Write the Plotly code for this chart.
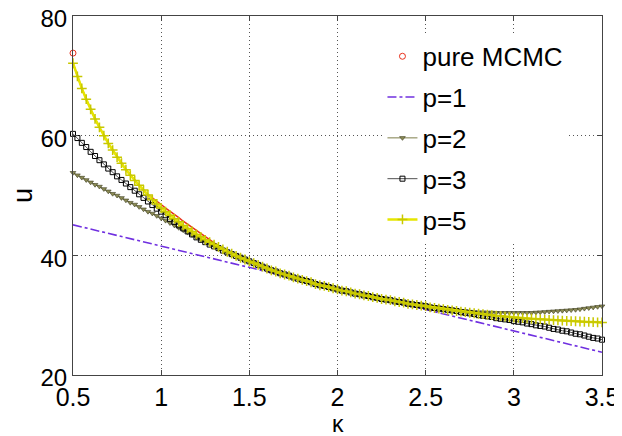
import numpy as np
import plotly.graph_objects as go

# kappa grid of the sampled curves (0.5 .. 3.5, step 0.025)
kappa = [round(0.5 + 0.025 * i, 3) for i in range(121)]

# pure MCMC
mcmc_k = [0.5]
mcmc_u = [73.8]
mcmc_line_u = [72.1, 69.9, 67.9, 66.1, 64.4, 62.8, 61.4, 60.0, 58.7, 57.6,
               56.4, 55.4, 54.3, 53.4, 52.5, 51.7, 50.9, 50.1, 49.6, 49.1,
               48.5, 47.9, 47.4, 46.8, 46.3, 45.7, 45.2, 44.7, 44.2, 43.7,
               43.2, 42.6, 42.1, 41.6, 41.0, 40.6, 40.3, 39.9, 39.6, 39.3,
               39.0, 38.7, 38.4, 38.1, 37.8, 37.5, 37.3, 37.0, 36.8, 36.6,
               36.3, 36.1, 35.9, 35.7, 35.5, 35.2, 35.0, 34.9, 34.7, 34.5,
               34.3, 34.1, 34.0, 33.8, 33.6, 33.5, 33.3, 33.2, 33.0, 32.9,
               32.7, 32.6, 32.5, 32.3, 32.2, 32.1, 31.9, 31.8, 31.7, 31.6,
               31.5, 31.3, 31.2, 31.1, 31.0, 30.9, 30.8, 30.7, 30.6, 30.5,
               30.4, 30.32, 30.24, 30.16, 30.08, 30.0, 29.92, 29.84, 29.76, 29.68,
               29.6, 29.55, 29.5, 29.45, 29.4, 29.35, 29.3, 29.26, 29.22, 29.18,
               29.14, 29.1, 29.06, 29.02, 28.98, 28.94, 28.9, 28.87, 28.84, 28.81, 28.78]

# p = 1 (straight line)
kappa_p1 = [0.5, 0.75, 1.0, 1.25, 1.5, 1.75, 2.0, 2.25, 2.5, 2.75, 3.0, 3.25, 3.5]
p1_u = [45.1, 43.3, 41.5, 39.8, 38.0, 36.2, 34.5, 32.7, 30.9, 29.1, 27.4, 25.6, 23.8]

p2_u = [53.8, 53.4, 53.0, 52.6, 52.2, 51.8, 51.5, 51.1, 50.7, 50.3,
        50.0, 49.6, 49.2, 48.8, 48.5, 48.1, 47.7, 47.3, 47.0, 46.6,
        46.2, 45.8, 45.4, 45.0, 44.6, 44.2, 43.8, 43.4, 43.0, 42.6,
        42.3, 41.9, 41.6, 41.2, 40.9, 40.5, 40.2, 39.9, 39.6, 39.3,
        39.0, 38.7, 38.4, 38.1, 37.8, 37.5, 37.3, 37.0, 36.8, 36.6,
        36.3, 36.1, 35.9, 35.7, 35.5, 35.2, 35.0, 34.9, 34.7, 34.5,
        34.3, 34.1, 34.0, 33.8, 33.6, 33.5, 33.3, 33.2, 33.0, 32.9,
        32.7, 32.6, 32.5, 32.3, 32.2, 32.1, 31.9, 31.8, 31.7, 31.6,
        31.5, 31.4, 31.3, 31.2, 31.1, 31.0, 30.9, 30.8, 30.75, 30.7,
        30.6, 30.55, 30.5, 30.5, 30.45, 30.45, 30.4, 30.4, 30.4, 30.4,
        30.4, 30.4, 30.4, 30.4, 30.4, 30.45, 30.5, 30.55, 30.6, 30.65,
        30.7, 30.75, 30.8, 30.85, 30.9, 31.0, 31.1, 31.2, 31.3, 31.4, 31.5]

p3_u = [60.3, 59.6, 58.8, 58.1, 57.3, 56.6, 55.9, 55.2, 54.5, 53.9,
        53.2, 52.6, 52.0, 51.4, 50.8, 50.2, 49.6, 49.0, 48.4, 47.8,
        47.3, 46.7, 46.1, 45.6, 45.0, 44.5, 44.0, 43.5, 43.0, 42.6,
        42.2, 41.8, 41.5, 41.2, 40.8, 40.5, 40.2, 39.9, 39.6, 39.3,
        39.0, 38.7, 38.4, 38.1, 37.8, 37.5, 37.3, 37.0, 36.8, 36.6,
        36.3, 36.1, 35.9, 35.7, 35.5, 35.2, 35.0, 34.9, 34.7, 34.5,
        34.3, 34.1, 34.0, 33.8, 33.6, 33.5, 33.3, 33.2, 33.0, 32.9,
        32.7, 32.6, 32.5, 32.3, 32.2, 32.1, 31.9, 31.8, 31.7, 31.6,
        31.5, 31.3, 31.2, 31.1, 31.0, 30.9, 30.8, 30.7, 30.5, 30.4,
        30.3, 30.2, 30.0, 29.9, 29.8, 29.7, 29.5, 29.4, 29.3, 29.2,
        29.0, 28.9, 28.8, 28.6, 28.5, 28.3, 28.2, 28.1, 27.9, 27.7,
        27.6, 27.4, 27.3, 27.1, 26.9, 26.8, 26.6, 26.4, 26.2, 26.1, 25.9]

p5_u = [72.1, 69.9, 67.9, 66.1, 64.4, 62.8, 61.4, 60.0, 58.7, 57.6,
        56.4, 55.4, 54.3, 53.4, 52.5, 51.7, 50.9, 50.1, 49.3, 48.6,
        47.9, 47.3, 46.7, 46.1, 45.6, 45.0, 44.5, 44.0, 43.5, 43.1,
        42.6, 42.2, 41.8, 41.4, 41.0, 40.6, 40.3, 39.9, 39.6, 39.3,
        39.0, 38.7, 38.4, 38.1, 37.8, 37.5, 37.3, 37.0, 36.8, 36.6,
        36.3, 36.1, 35.9, 35.7, 35.5, 35.2, 35.0, 34.9, 34.7, 34.5,
        34.3, 34.1, 34.0, 33.8, 33.6, 33.5, 33.3, 33.2, 33.0, 32.9,
        32.7, 32.6, 32.5, 32.3, 32.2, 32.1, 31.9, 31.8, 31.7, 31.6,
        31.5, 31.3, 31.2, 31.1, 31.0, 30.9, 30.8, 30.7, 30.6, 30.5,
        30.4, 30.32, 30.24, 30.16, 30.08, 30.0, 29.92, 29.84, 29.76, 29.68,
        29.6, 29.55, 29.5, 29.45, 29.4, 29.35, 29.3, 29.26, 29.22, 29.18,
        29.14, 29.1, 29.06, 29.02, 28.98, 28.94, 28.9, 28.87, 28.84, 28.81, 28.78]

x_ticks = [0.5, 1, 1.5, 2, 2.5, 3, 3.5]
x_tick_text = ["0.5", "1", "1.5", "2", "2.5", "3", "3.5"]
y_ticks = [20, 40, 60, 80]

FONT = "Liberation Sans, Arial, Helvetica, sans-serif"

fig = go.Figure()

# reference line (no legend entry)
fig.add_trace(go.Scatter(x=kappa, y=mcmc_line_u, mode="lines",
                         line=dict(color="#e8301c", width=1.5),
                         showlegend=False, cliponaxis=False, hoverinfo="skip"))

fig.add_trace(go.Scatter(x=mcmc_k, y=mcmc_u, mode="markers", name="pure MCMC",
                         legendgroup="a",
                         marker=dict(symbol="circle-open", size=6, color="#e8301c",
                                     line=dict(width=1, color="#e8301c")),
                         cliponaxis=False))

fig.add_trace(go.Scatter(x=kappa_p1, y=p1_u, mode="lines", name="p=1",
                         legendgroup="b",
                         line=dict(color="#7030e0", width=1.6, dash="dashdot"),
                         cliponaxis=False))

fig.add_trace(go.Scatter(x=kappa, y=p2_u, mode="lines+markers", name="p=2",
                         legendgroup="c",
                         line=dict(color="#7d7d4a", width=1),
                         marker=dict(symbol="triangle-down", size=5, color="#8c8c55",
                                     line=dict(width=0.6, color="#3c3c20")),
                         cliponaxis=False))

fig.add_trace(go.Scatter(x=kappa, y=p3_u, mode="lines+markers", name="p=3",
                         legendgroup="d",
                         line=dict(color="#505050", width=1),
                         marker=dict(symbol="square-open", size=5, color="#000000",
                                     line=dict(width=1, color="#000000")),
                         cliponaxis=False))

fig.add_trace(go.Scatter(x=kappa, y=p5_u, mode="lines+markers", name="p=5",
                         legendgroup="e",
                         line=dict(color="#e6e600", width=2.5),
                         marker=dict(symbol="cross-thin-open", size=7, color="#c8c800",
                                     line=dict(width=1.5, color="#c8c800")),
                         cliponaxis=False))

axis_common = dict(
    showline=True, linecolor="#444444", linewidth=1, mirror="ticks",
    ticks="inside", ticklen=5, tickcolor="#444444", tickwidth=1,
    showgrid=True, gridcolor="#555555", gridwidth=1, griddash="1px,3px",
    zeroline=False, ticklabeloverflow="allow", automargin=False,
)

fig.update_layout(
    width=622, height=436,
    margin=dict(l=65, r=28, t=8, b=69),
    paper_bgcolor="white", plot_bgcolor="white",
    xaxis=dict(range=[0.5, 3.5], tickvals=x_ticks, ticktext=x_tick_text,
               tickfont=dict(family=FONT, size=25, color="#000000"),
               **axis_common),
    yaxis=dict(range=[20, 80], tickvals=y_ticks, ticklabelshift=3,
               tickfont=dict(family=FONT, size=24, color="#000000"),
               title=dict(text="u", font=dict(family=FONT, size=27, color="#000000"),
                          standoff=2),
               **axis_common),
    legend=dict(x=0.585, y=0.953, xanchor="left", yanchor="top",
                bgcolor="white", borderwidth=0,
                font=dict(family=FONT, size=26, color="#000000"),
                tracegroupgap=4, itemwidth=30),
    showlegend=True,
    annotations=[dict(text="κ", xref="paper", yref="paper", x=0.5, y=-0.136,
                      xanchor="center", yanchor="middle", showarrow=False,
                      font=dict(family=FONT, size=23, color="#000000"))],
)

fig.write_html("out.html")
